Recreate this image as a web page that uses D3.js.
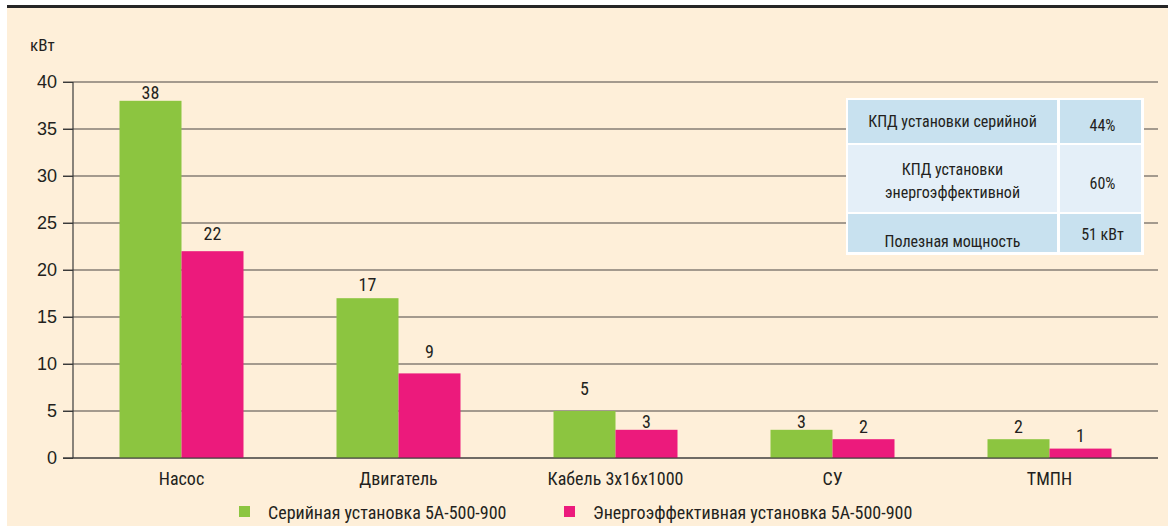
<!DOCTYPE html>
<html><head><meta charset="utf-8">
<script src="https://cdn.jsdelivr.net/npm/d3@7"></script>
<style>
html,body{margin:0;padding:0;background:#fff;}
svg text{font-family:"Liberation Sans Narrow","Arial Narrow","Roboto Condensed","Liberation Sans",sans-serif;fill:#231f20;}
</style></head>
<body>
<svg id="chart" width="1168" height="526"></svg>
<script>
const categories = ["Насос", "Двигатель", "Кабель 3х16х1000", "СУ", "ТМПН"];
const seriesNames = ["Серийная установка 5А-500-900", "Энергоэффективная установка 5А-500-900"];
const serialValues = [38, 17, 5, 3, 2];
const efficientValues = [22, 9, 3, 2, 1];
const yTicks = [0, 5, 10, 15, 20, 25, 30, 35, 40];
const unitLabel = "кВт";
const tableRows = [
  [["КПД установки серийной"], "44%"],
  [["КПД установки", "энергоэффективной"], "60%"],
  [["Полезная мощность"], "51 кВт"]
];
// styling: how far each value label sits above its bar (px)
const serialLabelGap = [2, 7, 16, 2, 6];
const efficientLabelGap = [11, 15, 2, 6, 7];
const colors = ["#8cc540", "#ec1a7c"];

const svg = d3.select("#chart");
svg.append("rect").attr("x", 7).attr("y", 8).attr("width", 1161).attr("height", 518).attr("fill", "#feefd9");
svg.append("rect").attr("x", 7).attr("y", 5).attr("width", 1161).attr("height", 3).attr("fill", "#262626");

const plotL = 73, plotR = 1158, plotT = 82, plotB = 458;
const y = d3.scaleLinear().domain([0, 40]).range([plotB, plotT]);
const x0 = d3.scaleBand().domain(categories).range([plotL, plotR]).padding(0);
const x1 = d3.scaleBand().domain([0, 1]).range([0, x0.bandwidth()]).paddingInner(0).paddingOuter(0.75);

svg.append("g").selectAll("line").data(yTicks).join("line")
  .attr("x1", plotL - 10).attr("x2", plotR).attr("y1", d => y(d)).attr("y2", d => y(d))
  .attr("stroke", "#4a4644").attr("stroke-width", 1.1);

const yAxis = d3.axisLeft(y).tickValues(yTicks).tickSize(10).tickPadding(6);
const ga = svg.append("g").attr("transform", `translate(${plotL},0)`).call(yAxis);
ga.select(".domain").remove();
ga.selectAll(".tick line").attr("stroke", "#3a3a3a");
ga.selectAll("text").attr("font-size", 18).attr("fill", "#231f20")
  .style("font-family", '"Liberation Sans Narrow","Arial Narrow","Liberation Sans",sans-serif');
svg.append("line").attr("x1", plotL).attr("x2", plotL).attr("y1", plotT).attr("y2", plotB)
  .attr("stroke", "#3a3a3a").attr("stroke-width", 1.2);

svg.append("text").attr("x", 30).attr("y", 51).attr("font-size", 17).text(unitLabel);

const data = categories.map((c, i) => ({c, vals: [serialValues[i], efficientValues[i]], gaps: [serialLabelGap[i], efficientLabelGap[i]]}));
const groups = svg.append("g").selectAll("g").data(data).join("g")
  .attr("transform", d => `translate(${x0(d.c)},0)`);
groups.selectAll("rect").data(d => d.vals.map((v, k) => ({v, k}))).join("rect")
  .attr("x", d => x1(d.k)).attr("width", x1.bandwidth())
  .attr("y", d => y(d.v)).attr("height", d => plotB - y(d.v))
  .attr("fill", d => colors[d.k]);
groups.selectAll("text.val").data(d => d.vals.map((v, k) => ({v, k, g: d.gaps[k]}))).join("text")
  .attr("class", "val")
  .attr("x", d => x1(d.k) + x1.bandwidth() / 2).attr("y", d => y(d.v) - d.g)
  .attr("text-anchor", "middle").attr("font-size", 18).text(d => d.v);
svg.append("line").attr("x1", plotL - 10).attr("x2", plotR).attr("y1", y(0)).attr("y2", y(0))
  .attr("stroke", "#3a3a3a").attr("stroke-width", 1.2);

svg.append("g").selectAll("text").data(categories).join("text")
  .attr("x", d => x0(d) + x0.bandwidth() / 2).attr("y", 485)
  .attr("text-anchor", "middle").attr("font-size", 18).text(d => d);

const legendX = [239, 564];
const lg = svg.append("g").selectAll("g").data(seriesNames).join("g")
  .attr("transform", (d, i) => `translate(${legendX[i]},506)`);
lg.append("rect").attr("width", 11).attr("height", 11).attr("fill", (d, i) => colors[i]);
lg.append("text").attr("x", 29).attr("y", 13).attr("font-size", 18).text(d => d);

const tbl = svg.append("g");
tbl.append("rect").attr("x", 846).attr("y", 98).attr("width", 298).attr("height", 157).attr("fill", "#ffffff");
const rowY = [[100, 143], [145, 212], [214, 252]];
const rowFill = ["#c8e1ef", "#e4eff8", "#c8e1ef"];
const col1 = [848, 1057], col2 = [1060, 1141];
tableRows.forEach((r, i) => {
  const [y0, y1] = rowY[i];
  tbl.append("rect").attr("x", col1[0]).attr("y", y0).attr("width", col1[1] - col1[0]).attr("height", y1 - y0).attr("fill", rowFill[i]);
  tbl.append("rect").attr("x", col2[0]).attr("y", y0).attr("width", col2[1] - col2[0]).attr("height", y1 - y0).attr("fill", rowFill[i]);
});
const labelBase = [[127], [175, 198], [247]];
const valBase = [131, 189, 240];
tableRows.forEach((r, i) => {
  r[0].forEach((line, j) => {
    tbl.append("text").attr("x", (col1[0] + col1[1]) / 2).attr("y", labelBase[i][j])
      .attr("text-anchor", "middle").attr("font-size", 16).text(line);
  });
  tbl.append("text").attr("x", (col2[0] + col2[1]) / 2 + 2).attr("y", valBase[i])
    .attr("text-anchor", "middle").attr("font-size", 16).text(r[1]);
});
</script>
</body></html>
